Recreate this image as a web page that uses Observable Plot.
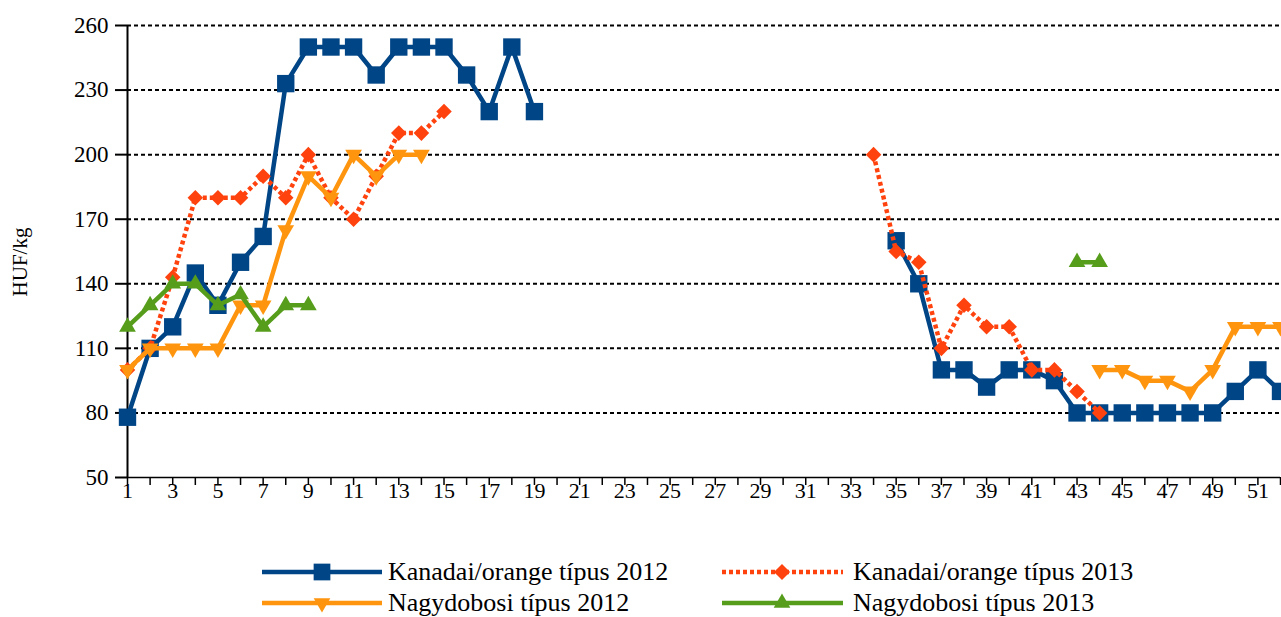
<!DOCTYPE html>
<html><head><meta charset="utf-8">
<script src="https://cdn.jsdelivr.net/npm/d3@7"></script>
<script src="https://cdn.jsdelivr.net/npm/@observablehq/plot@0.6"></script>
<style>
body{margin:0;background:#fff;font-family:"Liberation Serif",serif;}
svg{display:block}
svg text{font-family:"Liberation Serif",serif !important;}
</style>
</head><body><div id="chart"></div><div id="legend"></div>
<script>
// ---- data ----
const weeks = [1,2,3,4,5,6,7,8,9,10,11,12,13,14,15,16,17,18,19,20,21,22,23,24,25,26,27,28,29,30,31,32,33,34,35,36,37,38,39,40,41,42,43,44,45,46,47,48,49,50,51,52];
const xLabelWeeks = [1,3,5,7,9,11,13,15,17,19,21,23,25,27,29,31,33,35,37,39,41,43,45,47,49,51];
const yTicks = [50,80,110,140,170,200,230,260];
const _ = null;
const kanadai2012 = [78,110,120,145,130,150,162,233,250,250,250,237,250,250,250,237,220,250,220,_,_,_,_,_,_,_,_,_,_,_,_,_,_,_,160,140,100,100,92,100,100,95,80,80,80,80,80,80,80,90,100,90];
const kanadai2013 = [100,110,143,180,180,180,190,180,200,180,170,190,210,210,220,_,_,_,_,_,_,_,_,_,_,_,_,_,_,_,_,_,_,200,155,150,110,130,120,120,100,100,90,80,_,_,_,_,_,_,_,_];
const nagydobosi2012 = [100,110,110,110,110,130,130,165,190,180,200,190,200,200,_,_,_,_,_,_,_,_,_,_,_,_,_,_,_,_,_,_,_,_,_,_,_,_,_,_,_,_,_,100,100,95,95,90,100,120,120,120];
const nagydobosi2013 = [120,130,140,140,130,135,120,130,130,_,_,_,_,_,_,_,_,_,_,_,_,_,_,_,_,_,_,_,_,_,_,_,_,_,_,_,_,_,_,_,_,_,150,150,_,_,_,_,_,_,_,_];
const seriesNames = ["Kanadai/orange típus 2012","Kanadai/orange típus 2013","Nagydobosi típus 2012","Nagydobosi típus 2013"];
const yLabel = "HUF/kg";

// ---- styles ----
const styles = [
  {values: kanadai2012, color:"#004586", dash:null, symbol:"square", r:9.8, rotate:0},
  {values: kanadai2013, color:"#ff420e", dash:"4,3", symbol:"square", r:6.2, rotate:45},
  {values: nagydobosi2012, color:"#ff950e", dash:null, symbol:"triangle", r:6.2, rotate:180},
  {values: nagydobosi2013, color:"#579d1c", dash:null, symbol:"triangle", r:6.2, rotate:0}
];

const marks = [];
marks.push(Plot.ruleY(yTicks.filter(t => t !== 50), {stroke:"#000", strokeWidth:2, strokeDasharray:"4,3"}));
marks.push(Plot.ruleY([50], {stroke:"#000", strokeWidth:1.5}));
marks.push(Plot.ruleX([1], {stroke:"#000", strokeWidth:2}));
marks.push(Plot.axisY(yTicks, {tickSize:12, tickFormat:()=>"", label:null, strokeWidth:2}));
marks.push(Plot.axisX(weeks, {tickSize:8, tickFormat:()=>"", label:null, strokeWidth:1.5}));
marks.push(Plot.text(yTicks, {y:d=>d, frameAnchor:"left", dx:-19, textAnchor:"end", text:d=>String(d), fontSize:23, fill:"#000"}));
marks.push(Plot.text(xLabelWeeks, {x:d=>d, frameAnchor:"bottom", dy:20, text:d=>String(d), fontSize:22, fill:"#000"}));

styles.forEach((s, i) => {
  const rows = weeks.map((w, j) => ({week:w, value:s.values[j], series:seriesNames[i]}));
  marks.push(Plot.line(rows, {x:"week", y:"value", stroke:s.color, strokeWidth:4.5, strokeDasharray:s.dash, strokeLinecap:"butt", strokeLinejoin:"miter", curve:"linear"}));
  marks.push(Plot.dot(rows.filter(d => d.value != null), {x:"week", y:"value", symbol:()=>s.symbol, fill:s.color, stroke:"none", r:s.r, rotate:s.rotate}));
});

const chart = Plot.plot({
  width:1281, height:520,
  marginLeft:127, marginRight:1, marginTop:25, marginBottom:43,
  style:{fontFamily:"'Liberation Serif', serif", color:"#000", background:"#fff"},
  x:{type:"linear", domain:[1,52], range:[127,1280], axis:null},
  y:{domain:[50,260], range:[477,25], axis:null},
  symbol:{type:"identity"},
  marks
});
document.getElementById("chart").appendChild(chart);
d3.select(chart).append("text")
  .attr("transform","translate(20,262) rotate(-90)")
  .attr("text-anchor","middle").attr("dy","0.35em")
  .attr("font-size",21).attr("fill","#000")
  .text(yLabel);

// ---- legend ----
const lg = d3.select("#legend").append("svg").attr("width",1281).attr("height",97);
const pos = [{x:262,y:52},{x:722,y:52},{x:262,y:83},{x:722,y:83}];
const symPaths = [
  d3.symbol(d3.symbolSquare, 280)(),
  d3.symbol(d3.symbolSquare, 130)(),
  d3.symbol(d3.symbolTriangle, 120)(),
  d3.symbol(d3.symbolTriangle, 120)()
];
styles.forEach((s,i) => {
  const g = lg.append("g").attr("transform",`translate(${pos[i].x},${pos[i].y})`);
  g.append("line").attr("x1",0).attr("x2",i%2===0 ? 120 : 121).attr("y1",0).attr("y2",0)
    .attr("stroke",s.color).attr("stroke-width",4.5).attr("stroke-dasharray",s.dash);
  g.append("path").attr("d",symPaths[i]).attr("fill",s.color)
    .attr("transform",`translate(60,0) rotate(${s.rotate})`);
  g.append("text").attr("x", i%2===0 ? 126 : 131).attr("y",0).attr("dy","0.32em")
    .attr("font-size",26).attr("fill","#000")
    .text(seriesNames[i]);
});
</script>
</body></html>
